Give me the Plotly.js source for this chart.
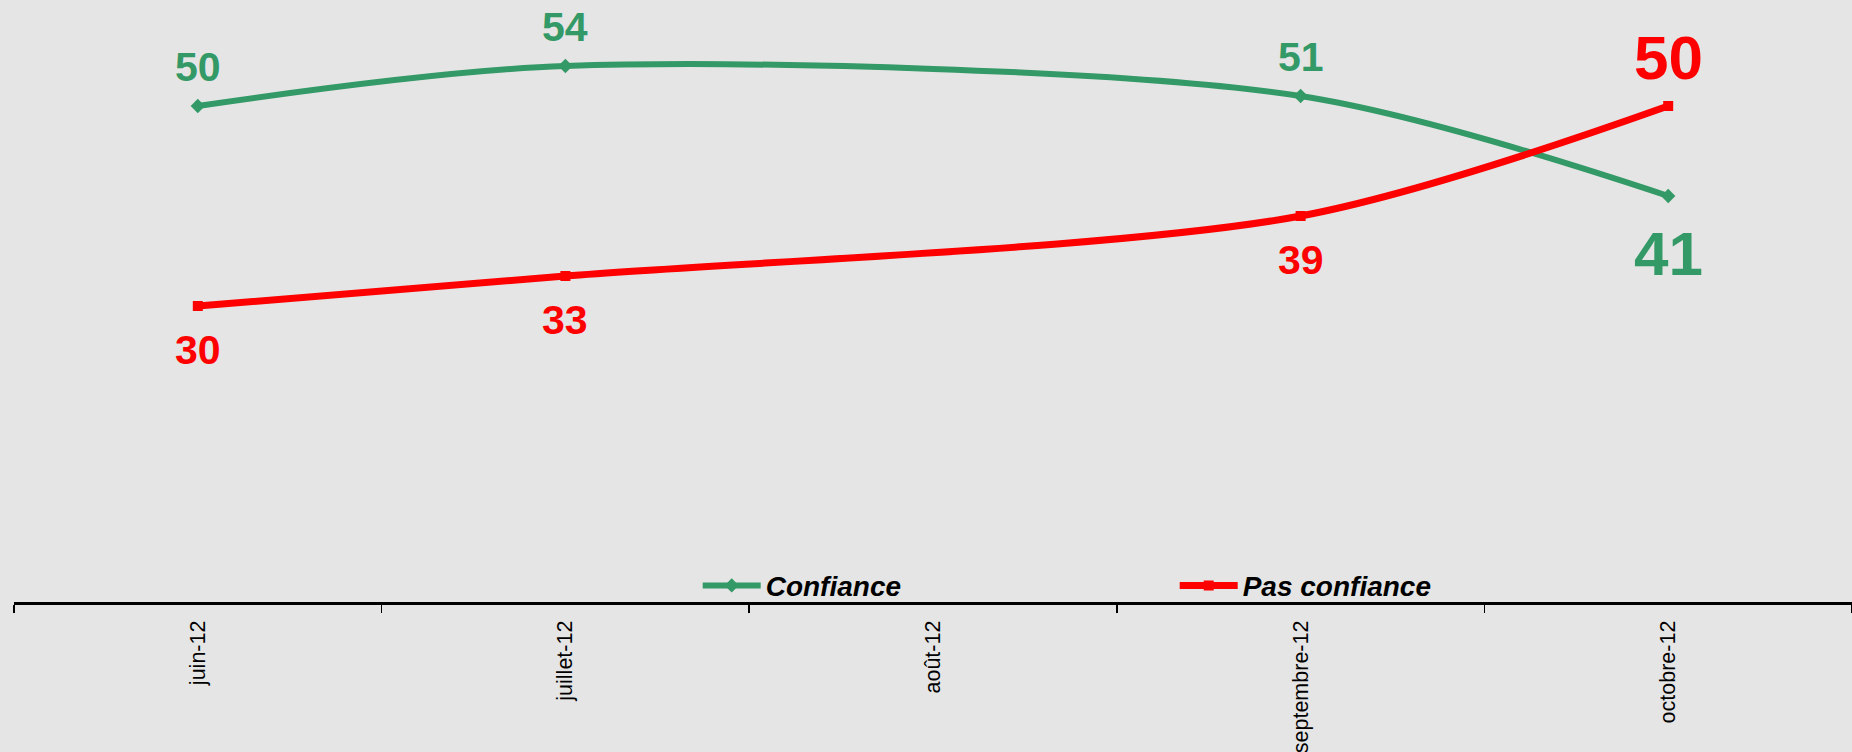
<!DOCTYPE html>
<html><head><meta charset="utf-8">
<script src="https://cdn.plot.ly/plotly-3.0.1.min.js"></script>
<style>html,body{margin:0;padding:0;background:#e5e5e5}</style>
</head><body><div id="chart" style="width:1852px;height:752px"></div>
<script>
const months = ['juin-12', 'juillet-12', 'août-12', 'septembre-12', 'octobre-12'];
const confiance = [50, 54, null, 51, 41];
const pasConfiance = [30, 33, null, 39, 50];
const seriesNames = ['Confiance', 'Pas confiance'];

const GREEN = '#339966', RED = '#ff0000';
const FONT = 'Liberation Sans, Arial, sans-serif';

const traces = [
  {x: months, y: confiance, name: seriesNames[0], type: 'scatter', mode: 'lines+markers',
   connectgaps: true, line: {color: GREEN, width: 6, shape: 'spline', smoothing: 0.85},
   marker: {symbol: 'diamond', size: 11, color: GREEN}},
  {x: months, y: pasConfiance, name: seriesNames[1], type: 'scatter', mode: 'lines+markers',
   connectgaps: true, line: {color: RED, width: 7, shape: 'spline', smoothing: 0.85},
   marker: {symbol: 'square', size: 10, color: RED}}
];

const annotations = [];
function addLabels(vals, color, aboveExceptLast) {
  const lastIdx = vals.length - 1;
  vals.forEach((v, i) => {
    if (v === null) return;
    const isLast = i === lastIdx;
    let up = aboveExceptLast ? !isLast : isLast;
    let shift;
    if (isLast) shift = up ? 49 : -57;
    else shift = up ? 39 : -44;
    annotations.push({x: months[i], y: v, xref: 'x', yref: 'y', text: String(v),
      showarrow: false, yshift: shift, xanchor: 'center', yanchor: 'middle',
      font: {family: FONT, size: isLast ? 62 : 41, color: color, weight: 'bold'}});
  });
}
addLabels(confiance, GREEN, true);
addLabels(pasConfiance, RED, false);

const layout = {
  width: 1852, height: 752,
  paper_bgcolor: '#e5e5e5', plot_bgcolor: '#e5e5e5',
  margin: {l: 14, r: 0, t: 0, b: 150},
  showlegend: true,
  legend: {orientation: 'h', x: 0.6315, xanchor: 'center', y: 0.027, yanchor: 'middle',
    bgcolor: 'rgba(0,0,0,0)', itemwidth: 58, entrywidth: 404,
    font: {family: FONT, size: 28, color: '#000', weight: 'bold', style: 'italic'}},
  xaxis: {type: 'category', range: [-0.5, 4.5], tickson: 'boundaries', ticks: 'outside',
    ticklen: 8, tickwidth: 1.5, tickcolor: '#000', showline: true, linecolor: '#000', linewidth: 3,
    showgrid: false, zeroline: false, tickangle: -90, ticklabelstandoff: 7,
    tickfont: {family: FONT, size: 21.5, color: '#000'}, fixedrange: true},
  yaxis: {visible: false, range: [0.4, 60.6], showgrid: false, zeroline: false, fixedrange: true},
  annotations: annotations
};

Plotly.newPlot('chart', traces, layout, {displayModeBar: false, staticPlot: true});
</script></body></html>
